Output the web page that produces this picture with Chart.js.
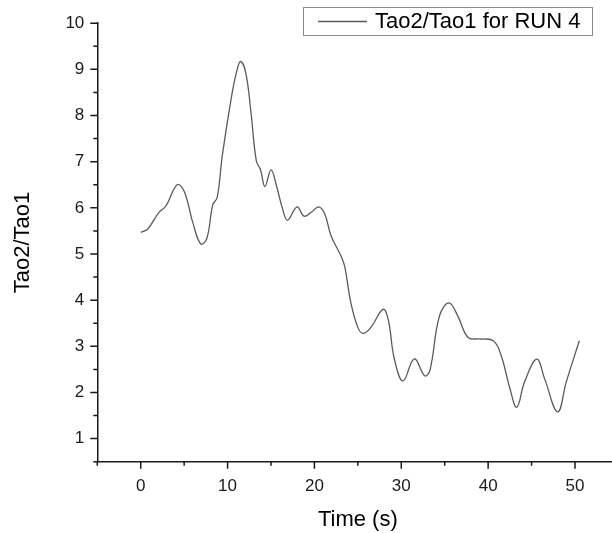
<!DOCTYPE html>
<html>
<head>
<meta charset="utf-8">
<script src="https://cdn.jsdelivr.net/npm/chart.js@4.4.1/dist/chart.umd.min.js"></script>
<style>
  html, body { margin: 0; padding: 0; background: #fff; overflow: hidden; }
  #wrap { width: 620px; height: 533px; }
</style>
</head>
<body>
<div id="wrap"><canvas id="chart" width="620" height="533"></canvas></div>
<script>
'use strict';

// values
var time = [0, 0.8, 2.1, 2.9, 4.2, 5.0, 6.0, 6.9, 7.6, 8.3,
    8.8, 9.4, 10.4, 11.0, 11.5, 12.1, 12.7, 13.3, 13.8, 14.3,
    15.0, 15.6, 16.3, 16.9, 18.0, 18.8, 19.6, 20.5, 21.2, 21.9,
    23.1, 23.5, 24.2, 25.0, 25.6, 26.5, 27.9, 28.5, 29.2, 30.2,
    31.5, 32.7, 33.3, 34.4, 35.5, 36.5, 37.7, 39.0, 40.6, 41.5,
    42.5, 43.3, 44.2, 45.6, 46.5, 48.0, 49.0, 50.5];
var ratio = [5.47, 5.54, 5.90, 6.04, 6.50, 6.36, 5.68, 5.22, 5.33, 6.07,
    6.22, 7.14, 8.35, 8.92, 9.17, 8.92, 8.06, 7.03, 6.82, 6.46,
    6.82, 6.50, 6.00, 5.73, 6.02, 5.82, 5.90, 6.02, 5.86, 5.40,
    4.94, 4.72, 3.94, 3.41, 3.28, 3.41, 3.80, 3.58, 2.73, 2.25,
    2.73, 2.36, 2.48, 3.66, 3.94, 3.66, 3.19, 3.16, 3.12, 2.80,
    2.09, 1.68, 2.23, 2.72, 2.30, 1.58, 2.23, 3.12];

var xTicks = [0, 10, 20, 30, 40, 50];
var yTicks = [1, 2, 3, 4, 5, 6, 7, 8, 9, 10];
var seriesName = 'Tao2/Tao1 for RUN 4';

var font = 'Arial, "Liberation Sans", sans-serif';
var lineColor = '#5a5a5a';

var points = time.map(function (t, i) {
    return { x: t, y: ratio[i] };
});

// origin style tick marks, major and minor
var tickMarks = {
    id: 'tickMarks',
    afterDraw: function (chart) {
        var ctx = chart.ctx;
        var xs = chart.scales.x, ys = chart.scales.y;
        var area = chart.chartArea;
        ctx.save();
        ctx.strokeStyle = '#1a1a1a';
        ctx.lineWidth = 1.5;
        ctx.beginPath();
        for (var v = xs.min; v <= xs.max + 0.001; v += 5) {
            var px = xs.getPixelForValue(v);
            var len = (Math.round(v) % 10 === 0) ? 7 : 4;
            ctx.moveTo(px, area.bottom);
            ctx.lineTo(px, area.bottom + len);
        }
        for (var w = ys.min; w <= ys.max + 0.001; w += 0.5) {
            var py = ys.getPixelForValue(w);
            var l2 = (Math.abs(w - Math.round(w)) < 0.01) ? 7 : 4;
            ctx.moveTo(area.left, py);
            ctx.lineTo(area.left - l2, py);
        }
        ctx.stroke();
        ctx.restore();
    }
};

// boxed legend in the top right corner
var boxLegend = {
    id: 'boxLegend',
    afterDraw: function (chart) {
        var ctx = chart.ctx;
        var ds = chart.data.datasets[0];
        ctx.save();
        ctx.strokeStyle = '#8a8a8a';
        ctx.lineWidth = 1;
        ctx.strokeRect(303.5, 7.5, 289, 28);
        ctx.strokeStyle = ds.borderColor;
        ctx.lineWidth = ds.borderWidth;
        ctx.beginPath();
        ctx.moveTo(318, 21.5);
        ctx.lineTo(367, 21.5);
        ctx.stroke();
        ctx.fillStyle = '#000';
        ctx.font = '22px ' + font;
        ctx.textBaseline = 'middle';
        ctx.fillText(ds.label, 375, 22);
        ctx.restore();
    }
};

new Chart(document.getElementById('chart'), {
    type: 'line',
    data: {
        datasets: [{
            label: seriesName,
            data: points,
            borderColor: lineColor,
            borderWidth: 1.3,
            pointRadius: 0,
            fill: false,
            tension: 0.4
        }]
    },
    options: {
        responsive: false,
        animation: false,
        devicePixelRatio: 1,
        layout: { padding: { top: 16, right: 1.6, left: 0, bottom: 0 } },
        plugins: {
            legend: { display: false },
            tooltip: { enabled: false }
        },
        scales: {
            x: {
                type: 'linear',
                min: -5,
                max: 55,
                afterBuildTicks: function (scale) {
                    scale.ticks = xTicks.map(function (v) { return { value: v }; });
                },
                afterFit: function (scale) { scale.height = 71.3; },
                grid: { display: false, drawTicks: false },
                border: { display: true, color: '#1a1a1a', width: 1.5 },
                ticks: { color: '#1a1a1a', padding: 14, maxRotation: 0, font: { family: font, size: 17 } },
                title: {
                    display: true,
                    text: 'Time (s)',
                    color: '#000',
                    padding: { top: 0, bottom: 0 },
                    font: { family: font, size: 22 }
                }
            },
            y: {
                type: 'linear',
                min: 0.5,
                max: 10,
                afterBuildTicks: function (scale) {
                    scale.ticks = yTicks.map(function (v) { return { value: v }; });
                },
                afterFit: function (scale) { scale.width = 97.3; },
                grid: { display: false, drawTicks: false },
                border: { display: true, color: '#1a1a1a', width: 1.5 },
                ticks: { color: '#1a1a1a', padding: 13, font: { family: font, size: 17 } },
                title: {
                    display: true,
                    text: 'Tao2/Tao1',
                    color: '#000',
                    padding: { top: 10, bottom: 0 },
                    font: { family: font, size: 22 }
                }
            }
        }
    },
    plugins: [tickMarks, boxLegend]
});
</script>
</body>
</html>
